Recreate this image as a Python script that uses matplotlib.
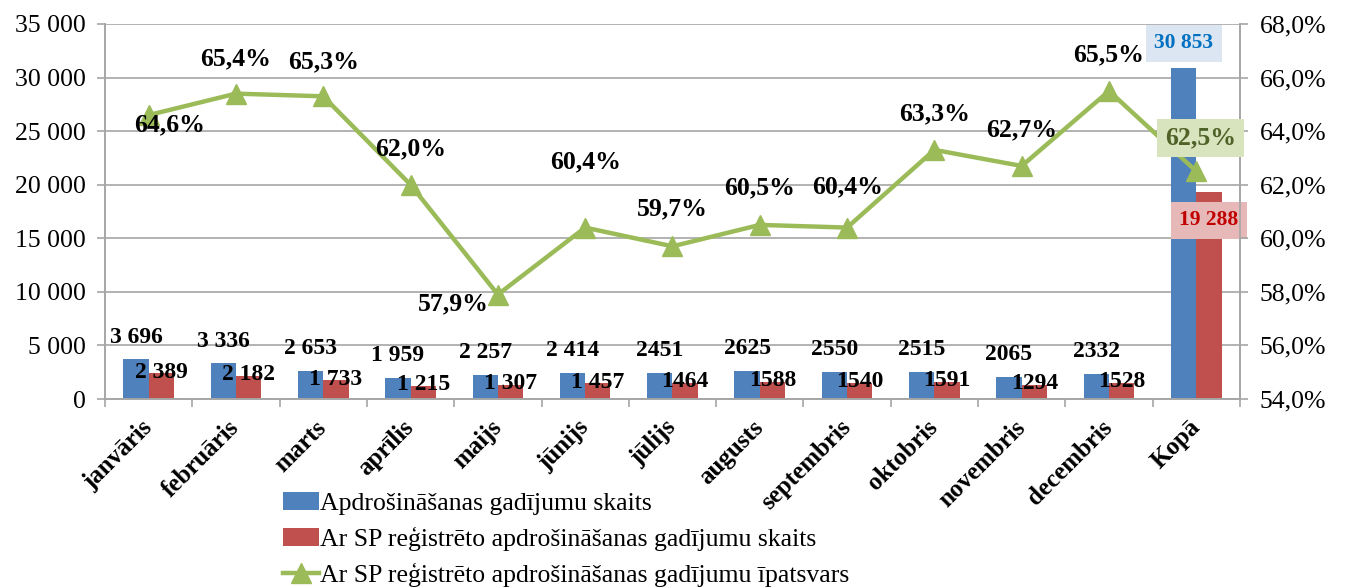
import matplotlib
matplotlib.use("Agg")
import matplotlib.pyplot as plt
import numpy as np
from matplotlib.ticker import FuncFormatter, FixedLocator

plt.rcParams['font.family'] = ['Liberation Serif', 'DejaVu Serif']

# Data
months = ['janvāris', 'februāris', 'marts', 'aprīlis', 'maijs', 'jūnijs', 'jūlijs',
          'augusts', 'septembris', 'oktobris', 'novembris', 'decembris', 'Kopā']
total_cases = [3696, 3336, 2653, 1959, 2257, 2414, 2451, 2625, 2550, 2515, 2065, 2332, 30853]
sp_cases = [2389, 2182, 1733, 1215, 1307, 1457, 1464, 1588, 1540, 1591, 1294, 1528, 19288]
share = [64.6, 65.4, 65.3, 62.0, 57.9, 60.4, 59.7, 60.5, 60.4, 63.3, 62.7, 65.5, 62.5]
total_labels = ['3 696', '3 336', '2 653', '1 959', '2 257', '2 414', '2451', '2625',
                '2550', '2515', '2065', '2332', '30 853']
sp_labels = ['2 389', '2 182', '1 733', '1 215', '1 307', '1 457', '1464', '1588',
             '1540', '1591', '1294', '1528', '19 288']
share_labels = ['64,6%', '65,4%', '65,3%', '62,0%', '57,9%', '60,4%', '59,7%',
                '60,5%', '60,4%', '63,3%', '62,7%', '65,5%', '62,5%']

blue = '#4F81BD'
red = '#C0504D'
green = '#9BBB59'
grid_c = '#A6A6A6'

fig = plt.figure(figsize=(13.49, 5.88), dpi=100)
ax = fig.add_axes([0.0778, 0.3214, 0.8414, 0.6378])
ax2 = ax.twinx()

x = np.arange(len(months))
w = 0.29
ax.bar(x - w / 2, total_cases, w, color=blue, label='Apdrošināšanas gadījumu skaits', zorder=2)
ax.bar(x + w / 2, sp_cases, w, color=red, label='Ar SP reģistrēto apdrošināšanas gadījumu skaits', zorder=2)

ax.set_xlim(-0.5, len(months) - 0.5)
ax.set_ylim(0, 35000)
ax.yaxis.set_major_locator(FixedLocator(range(0, 35001, 5000)))
ax.yaxis.set_major_formatter(FuncFormatter(lambda v, p: f'{int(v):,}'.replace(',', ' ')))
ax.grid(axis='y', color=grid_c, linewidth=1.2, zorder=0)
ax.set_axisbelow(True)

ax.set_xticks(x)
ax.set_xticklabels(months, rotation=45, ha='right', va='center', rotation_mode='anchor',
                   fontsize=18, fontweight='bold')
ax.xaxis.set_minor_locator(FixedLocator(np.arange(-0.5, len(months), 1)))
ax.tick_params(axis='x', which='major', length=0, pad=18)
ax.tick_params(axis='x', which='minor', length=6, color=grid_c, width=1.2)
ax.tick_params(axis='y', labelsize=18.5, length=6, color=grid_c, width=1.2, pad=8)

ax.spines['top'].set_visible(False)
ax2.spines['top'].set_visible(False)
for a in (ax, ax2):
    for s in ['left', 'right', 'bottom']:
        a.spines[s].set_color(grid_c)
        a.spines[s].set_linewidth(1.2)

# bar labels
for i in range(len(months) - 1):
    ax.annotate(total_labels[i], (x[i] - w / 2, total_cases[i]), xytext=(0, 16),
                textcoords='offset points', ha='center', va='center',
                fontsize=17, fontweight='bold')
    ax.annotate(sp_labels[i], (x[i] + w / 2, sp_cases[i]), xytext=(0, 1),
                textcoords='offset points', ha='center', va='center',
                fontsize=17, fontweight='bold')
k = len(months) - 1
ax.annotate(total_labels[k], (x[k] - w / 2, total_cases[k]), xytext=(0, 18),
            textcoords='offset points', ha='center', va='center',
            fontsize=15.5, fontweight='bold', color='#0070C0',
            bbox=dict(boxstyle='square,pad=0.4', fc='#DCE6F2', ec='none'))
ax.annotate(sp_labels[k], (x[k] + w / 2, sp_cases[k]), xytext=(0, -20),
            textcoords='offset points', ha='center', va='center',
            fontsize=15.5, fontweight='bold', color='#C00000',
            bbox=dict(boxstyle='square,pad=0.4', fc='#E6B9B8', ec='none'))

# share line
ax2.plot(x, share, color=green, linewidth=3.2, marker='^', markersize=15,
         label='Ar SP reģistrēto apdrošināšanas gadījumu īpatsvars', zorder=3)
ax2.set_ylim(54, 68)
ax2.yaxis.set_major_locator(FixedLocator(np.arange(54, 68.1, 2)))
ax2.yaxis.set_major_formatter(FuncFormatter(lambda v, p: f'{v:.1f}%'.replace('.', ',')))
ax2.tick_params(axis='y', labelsize=18.5, length=6, color=grid_c, width=1.2, pad=8)

offsets = [(15, -7), (0, 25), (0, 25), (0, 26), (-32, -7), (0, 47), (0, 27),
           (0, 27), (0, 29), (0, 26), (0, 26), (0, 26)]
for i in range(len(months) - 1):
    ax2.annotate(share_labels[i], (x[i], share[i]), xytext=offsets[i],
                 textcoords='offset points', ha='center', va='center',
                 fontsize=18.5, fontweight='bold')
ax2.annotate(share_labels[k], (x[k], share[k]), xytext=(3, 24),
             textcoords='offset points', ha='center', va='center',
             fontsize=18.5, fontweight='bold', color='#4F6228',
             bbox=dict(boxstyle='square,pad=0.3', fc='#D7E4BD', ec='none'))

h1, l1 = ax.get_legend_handles_labels()
h2, l2 = ax2.get_legend_handles_labels()
fig.legend(h1 + h2, l1 + l2, loc='upper left', bbox_to_anchor=(0.2, 0.185),
           frameon=False, fontsize=18.5, handlelength=1.4, handletextpad=0.05,
           labelspacing=0.46, borderpad=0)

fig.savefig('out.png', dpi=100)
